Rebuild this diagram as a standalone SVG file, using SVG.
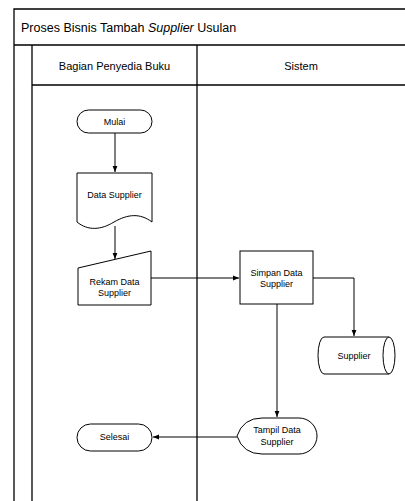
<svg xmlns="http://www.w3.org/2000/svg" width="405" height="501" viewBox="0 0 405 501">
<defs>
<style>
.frame{stroke:#000;stroke-width:1.3;fill:none}
.shape{stroke:#000;stroke-width:1;fill:#fff}
.conn{stroke:#000;stroke-width:1;fill:none;marker-end:url(#arr)}
text{font-family:"Liberation Sans",Arial,sans-serif;fill:#000}
.t{font-size:9px;text-anchor:middle}
.h{font-size:11px;text-anchor:middle}
.title{font-size:12.5px}
</style>
<marker id="arr" viewBox="0 0 10 10" refX="10" refY="5" markerWidth="6" markerHeight="6" orient="auto" markerUnits="userSpaceOnUse">
<path d="M0,1 L10,5 L0,9 Z" fill="#000"/>
</marker>
</defs>
<rect width="405" height="501" fill="#fff"/>
<g id="pool">
<path class="frame" d="M14,501 V9 H405 M14,45 H405 M32,45 V501 M32,85 H405 M197,45 V501"/>
<text class="title" x="21" y="32">Proses Bisnis Tambah <tspan font-style="italic">Supplier</tspan> Usulan</text>
<text class="h" x="114.5" y="70">Bagian Penyedia Buku</text>
<text class="h" x="301" y="70">Sistem</text>
</g>
<g id="connectors">
<path class="conn" d="M115,133 V172"/>
<path class="conn" d="M115,226 V259"/>
<path class="conn" d="M151,278 H239"/>
<path class="conn" d="M313,278 H354 V336"/>
<path class="conn" d="M277,304 V417"/>
<path class="conn" d="M237,437 H153"/>
</g>
<g id="mulai">
<rect class="shape" x="77" y="110" width="75" height="23" rx="11.5"/>
<text class="t" x="114.5" y="125">Mulai</text>
</g>
<g id="data-supplier">
<path class="shape" d="M77,173 H152 V222 C140,213 128,214 114,222 C101,230 88,231 77,222 Z"/>
<text class="t" x="114.5" y="198">Data Supplier</text>
</g>
<g id="rekam">
<path class="shape" d="M78,268 L151,251 V305 H78 Z"/>
<text class="t" x="114.5" y="285">Rekam Data</text>
<text class="t" x="114.5" y="296">Supplier</text>
</g>
<g id="simpan">
<rect class="shape" x="240" y="251" width="73" height="53"/>
<text class="t" x="276.5" y="276">Simpan Data</text>
<text class="t" x="276.5" y="287">Supplier</text>
</g>
<g id="supplier-db">
<path class="shape" d="M324,337 H389 A6,18.5 0 0 1 389,374 H324 A6,18.5 0 0 1 324,337 Z"/>
<path class="shape" fill="none" d="M389,337 A6,18.5 0 0 0 389,374"/>
<text class="t" x="354" y="359">Supplier</text>
</g>
<g id="tampil">
<path class="shape" d="M237,436 Q243,418 262,418 H299 A18,18 0 0 1 299,454 H262 Q243,454 237,436 Z"/>
<text class="t" x="277" y="433">Tampil Data</text>
<text class="t" x="277" y="445">Supplier</text>
</g>
<g id="selesai">
<rect class="shape" x="77" y="424" width="75" height="27" rx="13.5"/>
<text class="t" x="114.5" y="440">Selesai</text>
</g>
</svg>
